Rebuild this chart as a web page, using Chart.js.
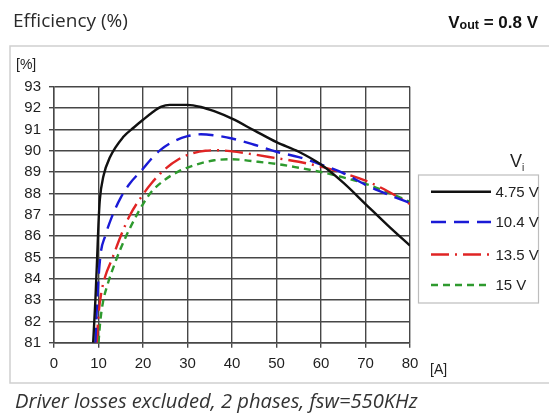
<!DOCTYPE html>
<html>
<head>
<meta charset="utf-8">
<script src="https://cdn.jsdelivr.net/npm/chart.js@4/dist/chart.umd.min.js"></script>
<style>
html,body{margin:0;padding:0;background:#fff;}
#wrap{position:relative;width:549px;height:413px;}
</style>
</head>
<body>
<div id="wrap"><canvas id="c" width="549" height="413"></canvas></div>
<script>
// ---- data ----
const seriesLabels = ['4.75 V', '10.4 V', '13.5 V', '15 V'];
const xTicks = [0, 10, 20, 30, 40, 50, 60, 70, 80];
const yTicks = [81, 82, 83, 84, 85, 86, 87, 88, 89, 90, 91, 92, 93];

const x475 = [8.8, 9.3, 9.7, 10.0, 10.3, 11.1, 12.6, 15.6, 18, 20, 22, 24, 26, 30, 33, 36, 40, 45, 50, 55, 60, 65, 70, 75, 80];
const y475 = [81, 83, 85, 86.6, 87.7, 88.8, 89.7, 90.65, 91.1, 91.45, 91.78, 92.05, 92.15, 92.15, 92.05, 91.85, 91.5, 90.95, 90.4, 89.95, 89.35, 88.5, 87.5, 86.5, 85.55];

const x104 = [9.3, 9.6, 10, 10.5, 11.5, 13, 15, 17, 20, 22, 24, 27, 30, 33, 36, 40, 45, 50, 55, 60, 65, 70, 75, 80];
const y104 = [81, 82.5, 84, 85.2, 86, 86.9, 87.8, 88.45, 89.15, 89.65, 90.05, 90.45, 90.68, 90.77, 90.72, 90.57, 90.28, 89.95, 89.7, 89.35, 88.95, 88.4, 87.95, 87.55];

const x135 = [9.6, 10, 10.6, 11.5, 13, 15, 17, 20, 22, 25, 28, 31, 34, 37, 40, 45, 50, 55, 60, 65, 70, 75, 80];
const y135 = [81, 82.3, 83.3, 84.1, 84.9, 86, 86.95, 87.95, 88.5, 89.15, 89.6, 89.87, 90.0, 90.02, 89.97, 89.82, 89.65, 89.48, 89.25, 88.95, 88.6, 88.1, 87.5];

const x15 = [10, 10.4, 11, 12, 14, 16, 18, 20, 22, 25, 28, 32, 36, 40, 45, 50, 55, 60, 65, 70, 75, 80];
const y15 = [81, 82, 82.9, 83.7, 84.9, 85.9, 86.75, 87.5, 88.1, 88.65, 89.03, 89.35, 89.55, 89.6, 89.5, 89.38, 89.2, 89.0, 88.75, 88.45, 88.05, 87.6];

// ---- styles ----
const colors = ['#111111', '#1a1ad6', '#e02424', '#2e9a2e'];
const dashes = [[], [15, 8], [18, 6, 2, 6], [7, 5]];

function pts(xs, ys) { return xs.map((x, i) => ({ x: x, y: ys[i] })); }
const allX = [x475, x104, x135, x15];
const allY = [y475, y104, y135, y15];

const datasets = seriesLabels.map((lab, i) => ({
  label: lab,
  data: pts(allX[i], allY[i]),
  borderColor: colors[i],
  backgroundColor: colors[i],
  borderWidth: 2.4,
  borderDash: dashes[i],
  pointRadius: 0,
  fill: false,
  cubicInterpolationMode: 'monotone'
}));

function fitFont(ctx, text, style, family, target) {
  const size = 20;
  ctx.font = style + ' ' + size + 'px ' + family;
  const w = ctx.measureText(text).width;
  return size * target / w;
}

const decor = {
  id: 'decor',
  beforeDraw(chart) {
    const ctx = chart.ctx;
    ctx.save();
    ctx.fillStyle = '#ffffff';
    ctx.fillRect(0, 0, chart.width, chart.height);
    ctx.strokeStyle = '#cfcfcf';
    ctx.lineWidth = 1.5;
    ctx.strokeRect(10, 46, 545, 337);
    ctx.restore();
  },
  afterDraw(chart) {
    const ctx = chart.ctx;
    ctx.save();
    ctx.fillStyle = '#2a2a2a';
    ctx.textBaseline = 'alphabetic';
    ctx.textAlign = 'left';
    // title left
    const fam = '"Open Sans", Lato, sans-serif';
    const fs = fitFont(ctx, 'Efficiency (%)', '', fam, 115);
    ctx.font = fs + 'px ' + fam;
    ctx.fillText('Efficiency (%)', 13, 27);
    // Vout title right
    ctx.fillStyle = '#111';
    const bf = '"Liberation Sans", Arial, sans-serif';
    ctx.font = 'bold 17px ' + bf;
    const w1 = ctx.measureText('V').width;
    ctx.font = 'bold 12.5px ' + bf;
    const w2 = ctx.measureText('out').width;
    ctx.font = 'bold 17px ' + bf;
    const w3 = ctx.measureText(' = 0.8 V').width;
    const x0 = 538 - (w1 + w2 + w3);
    ctx.fillText('V', x0, 27.5);
    ctx.font = 'bold 12.5px ' + bf;
    ctx.fillText('out', x0 + w1, 28.5);
    ctx.font = 'bold 17px ' + bf;
    ctx.fillText(' = 0.8 V', x0 + w1 + w2, 27.5);
    // axis unit labels
    ctx.fillStyle = '#222';
    ctx.font = '14px "Liberation Sans", Arial, sans-serif';
    ctx.fillText('[%]', 16, 69);
    ctx.fillText('[A]', 430, 374);
    // caption
    const cs = fitFont(ctx, 'Driver losses excluded, 2 phases, fsw=550KHz', 'italic', fam, 403);
    ctx.font = 'italic ' + cs + 'px ' + fam;
    ctx.fillStyle = '#333';
    ctx.fillText('Driver losses excluded, 2 phases, fsw=550KHz', 15, 408);
    // legend
    ctx.strokeStyle = '#bdbdbd';
    ctx.lineWidth = 1.2;
    ctx.strokeRect(418.5, 175, 120, 128);
    ctx.fillStyle = '#222';
    ctx.font = '18px "Liberation Sans", Arial, sans-serif';
    ctx.fillText('V', 510, 167);
    ctx.font = '10px "Liberation Sans", Arial, sans-serif';
    ctx.fillText('i', 522, 171);
    const rows = [191.7, 222, 254.5, 285];
    chart.data.datasets.forEach((ds, i) => {
      ctx.beginPath();
      ctx.setLineDash(ds.borderDash);
      ctx.strokeStyle = ds.borderColor;
      ctx.lineWidth = 2.4;
      ctx.moveTo(431, rows[i]);
      ctx.lineTo(491, rows[i]);
      ctx.stroke();
      ctx.setLineDash([]);
      ctx.fillStyle = '#222';
      ctx.font = '15px "Liberation Sans", Arial, sans-serif';
      ctx.textBaseline = 'middle';
      ctx.fillText(ds.label, 495.5, rows[i] + 1);
      ctx.textBaseline = 'alphabetic';
    });
    ctx.restore();
  }
};

const gridCol = '#474747';
new Chart(document.getElementById('c'), {
  type: 'line',
  data: { datasets: datasets },
  plugins: [decor],
  options: {
    responsive: false,
    animation: false,
    events: [],
    layout: { padding: { left: 0, top: 86.7, right: 139, bottom: 40.3 } },
    plugins: { legend: { display: false }, tooltip: { enabled: false } },
    scales: {
      x: {
        type: 'linear',
        min: 0, max: 80,
        afterBuildTicks(scale) { scale.ticks = xTicks.map(v => ({ value: v })); },
        afterFit(scale) { scale.height = 30; },
        grid: { color: gridCol, lineWidth: 1.4, tickLength: 5 },
        border: { color: gridCol, width: 1.4 },
        ticks: { color: '#1e1e1e', padding: 7, maxRotation: 0, font: { family: '"Liberation Sans", Arial, sans-serif', size: 15 } }
      },
      y: {
        min: 81, max: 93,
        afterBuildTicks(scale) { scale.ticks = yTicks.map(v => ({ value: v })); },
        afterFit(scale) { scale.width = 54; },
        grid: { color: gridCol, lineWidth: 1.4, tickLength: 5 },
        border: { color: gridCol, width: 1.4 },
        ticks: { color: '#1e1e1e', padding: 8, font: { family: '"Liberation Sans", Arial, sans-serif', size: 15 } }
      }
    }
  }
});
</script>
</body>
</html>
